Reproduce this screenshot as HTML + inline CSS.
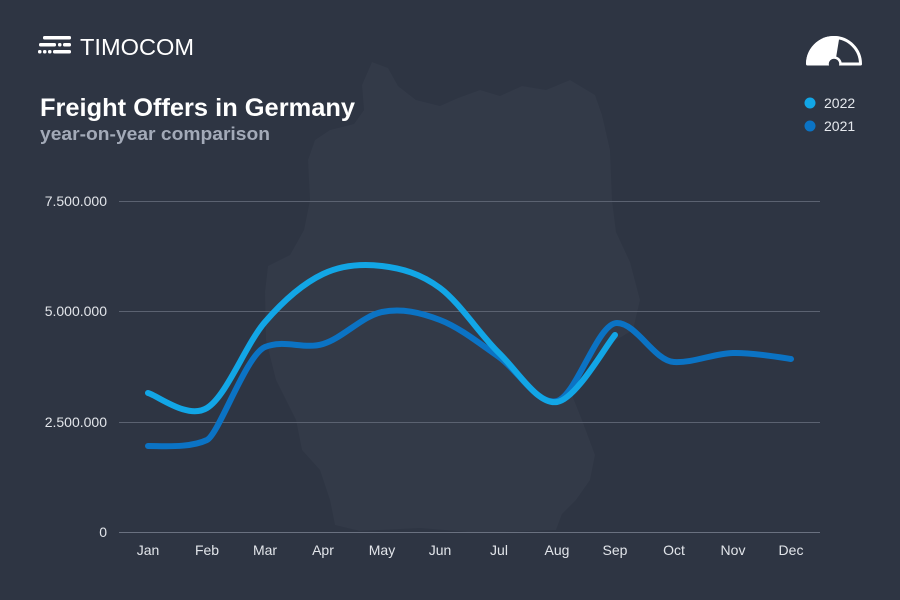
<!DOCTYPE html>
<html>
<head>
<meta charset="utf-8">
<style>
html,body{margin:0;padding:0;background:#2e3543;}
svg{display:block;}
</style>
</head>
<body>
<svg width="900" height="600" viewBox="0 0 900 600" xmlns="http://www.w3.org/2000/svg">
  <rect x="0" y="0" width="900" height="600" fill="#2e3543"/>
  <!-- Germany silhouette -->
  <path d="M372,62 L388,68 L398,86 L416,100 L440,106 L458,98 L480,90 L500,96 L522,86 L546,90 L570,80 L595,95 L602,115 L610,150 L612,200 L616,232 L630,262 L640,300 L633,330 L606,346 L586,366 L572,395 L582,420 L595,455 L590,480 L576,500 L562,514 L556,530 L480,533 L420,528 L360,531 L335,525 L330,500 L320,470 L302,450 L296,420 L286,400 L276,380 L266,340 L265,292 L268,266 L290,255 L304,230 L310,200 L308,160 L315,140 L330,130 L354,124 L364,110 L362,85 Z" fill="#333a48"/>

  <!-- logo -->
  <g fill="#ffffff">
    <rect x="43" y="36" width="28" height="3.5" rx="1.5"/>
    <rect x="39" y="43" width="17" height="3.5" rx="1.5"/>
    <rect x="58" y="43" width="3.5" height="3.5" rx="1.5"/>
    <rect x="63" y="43" width="8" height="3.5" rx="1.5"/>
    <rect x="38" y="50" width="3.5" height="3.5" rx="1.5"/>
    <rect x="43" y="50" width="3.5" height="3.5" rx="1.5"/>
    <rect x="48" y="50" width="3.5" height="3.5" rx="1.5"/>
    <rect x="53" y="50" width="18" height="3.5" rx="1.5"/>
  </g>
  <text x="80" y="55" font-family="Liberation Sans, sans-serif" font-size="23" fill="#ffffff" textLength="114" lengthAdjust="spacingAndGlyphs">TIMOCOM</text>

  <!-- title -->
  <text x="40" y="116" font-family="Liberation Sans, sans-serif" font-size="25" font-weight="bold" fill="#ffffff" textLength="315" lengthAdjust="spacingAndGlyphs">Freight Offers in Germany</text>
  <text x="40" y="140" font-family="Liberation Sans, sans-serif" font-size="18" font-weight="bold" fill="#a3aab8" textLength="230" lengthAdjust="spacingAndGlyphs">year-on-year comparison</text>

  <!-- gauge icon -->
  <g>
    <path d="M807.5,64 A26.5,26.5 0 0 1 860.5,64 Z" fill="none" stroke="#ffffff" stroke-width="3" stroke-linejoin="round"/>
    <path d="M834,64 L806,64 A28,28 0 0 1 839.5,36.5 L836,58 Z" fill="#ffffff"/>
    <circle cx="834" cy="64" r="6.5" fill="#2e3543" stroke="#ffffff" stroke-width="2.5"/>
    <rect x="800" y="65.5" width="66" height="8" fill="#2e3543"/>
  </g>

  <!-- legend -->
  <circle cx="810" cy="103" r="5.5" fill="#12a6e6"/>
  <text x="824" y="108" font-family="Liberation Sans, sans-serif" font-size="14" fill="#e6e9ee">2022</text>
  <circle cx="810" cy="126" r="5.5" fill="#0b73c4"/>
  <text x="824" y="131" font-family="Liberation Sans, sans-serif" font-size="14" fill="#e6e9ee">2021</text>

  <!-- gridlines -->
  <g stroke="#5b6271" stroke-width="1">
    <line x1="119" y1="201.5" x2="820" y2="201.5"/>
    <line x1="119" y1="311.5" x2="820" y2="311.5"/>
    <line x1="119" y1="422.5" x2="820" y2="422.5"/>
    <line x1="119" y1="532.5" x2="820" y2="532.5" stroke="#6a7180"/>
  </g>

  <!-- y labels -->
  <g font-family="Liberation Sans, sans-serif" font-size="14" fill="#e2e5ea" text-anchor="end">
    <text x="107" y="206">7.500.000</text>
    <text x="107" y="316">5.000.000</text>
    <text x="107" y="427">2.500.000</text>
    <text x="107" y="537">0</text>
  </g>

  <!-- x labels -->
  <g font-family="Liberation Sans, sans-serif" font-size="14" fill="#e2e5ea" text-anchor="middle">
    <text x="148" y="555">Jan</text>
    <text x="207" y="555">Feb</text>
    <text x="265" y="555">Mar</text>
    <text x="323" y="555">Apr</text>
    <text x="382" y="555">May</text>
    <text x="440" y="555">Jun</text>
    <text x="499" y="555">Jul</text>
    <text x="557" y="555">Aug</text>
    <text x="615" y="555">Sep</text>
    <text x="674" y="555">Oct</text>
    <text x="733" y="555">Nov</text>
    <text x="791" y="555">Dec</text>
  </g>

  <!-- 2021 series -->
  <path d="M148,446 C165,446 190,448 207,440 C219,434 246,355 265,347 C284,339 303.5,349.8 323,344 C342.5,338.2 362.5,316 382,312 C401.5,308 420.5,312.5 440,320 C459.5,327.5 479.5,343.5 499,357 C518.5,370.5 537.7,406.2 557,401 C576.7,395.3 597.5,323 617,323 C636.5,323 654.3,361 674,362 C693.7,363 713.5,353.5 733,353 C752.5,352.5 781.3,357.5 791,359" fill="none" stroke="#0b73c4" stroke-width="6" stroke-linecap="round" stroke-linejoin="round"/>

  <!-- 2022 series -->
  <path d="M148,393 C157.8,395.5 187.5,419.8 207,408 C226.5,396.2 245.7,344.3 265,322 C284.3,299.7 303.5,283.3 323,274 C342.5,264.7 362.5,263.7 382,266 C401.5,268.3 420.5,273.5 440,288 C459.5,302.5 479.5,334 499,353 C518.5,372 537.7,405 557,402 C576.3,399 605.3,346.2 615,335" fill="none" stroke="#12a6e6" stroke-width="6" stroke-linecap="round" stroke-linejoin="round"/>
</svg>
</body>
</html>
